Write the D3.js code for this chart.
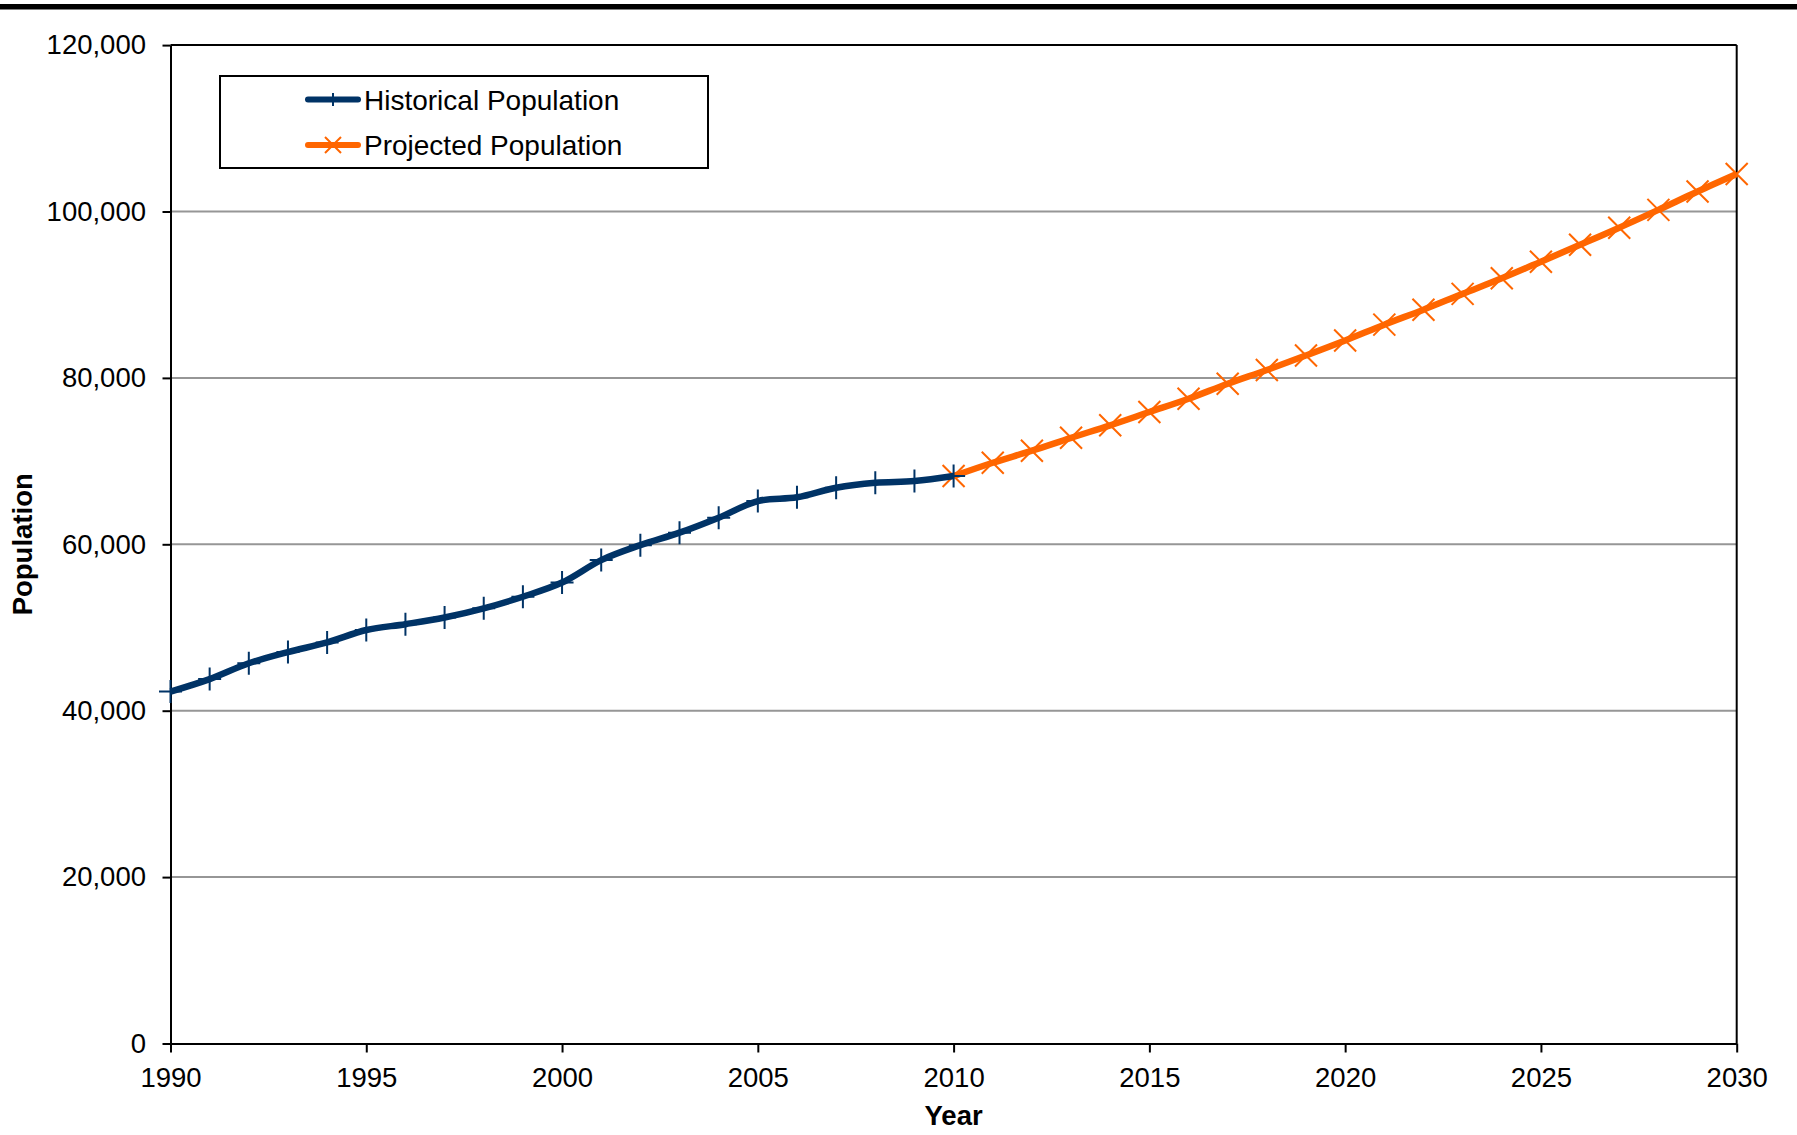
<!DOCTYPE html>
<html>
<head>
<meta charset="utf-8">
<script src="https://cdn.jsdelivr.net/npm/d3@7"></script>
<style>
  html, body { margin: 0; padding: 0; background: #fff; }
  svg { display: block; }
  text { font-family: "Liberation Sans", Arial, sans-serif; fill: #000; }
</style>
</head>
<body>
<svg id="chart" width="1797" height="1135"></svg>
<script>
// Historical population, 1990–2010
const histYears = [1990, 1991, 1992, 1993, 1994, 1995, 1996, 1997, 1998, 1999, 2000,
                   2001, 2002, 2003, 2004, 2005, 2006, 2007, 2008, 2009, 2010];
const histPop = [42300, 43800, 45700, 47050, 48200, 49700, 50400, 51200, 52300, 53700, 55400,
                 58100, 59900, 61400, 63200, 65200, 65650, 66800, 67400, 67600, 68200];

// Projected population, 2010–2030
const projYears = [2010, 2011, 2012, 2013, 2014, 2015, 2016, 2017, 2018, 2019, 2020,
                   2021, 2022, 2023, 2024, 2025, 2026, 2027, 2028, 2029, 2030];
const projPop = [68200, 69800, 71250, 72800, 74300, 75900, 77500, 79300, 80950, 82700, 84500,
                 86400, 88200, 90100, 91970, 93970, 96000, 98050, 100200, 102400, 104500];

const yTicks = [0, 20000, 40000, 60000, 80000, 100000, 120000];
const xTicks = [1990, 1995, 2000, 2005, 2010, 2015, 2020, 2025, 2030];
const seriesNames = ["Historical Population", "Projected Population"];

const NAVY = "#003366", ORANGE = "#FF6600";
const FS = 27.5;

const svg = d3.select("#chart");
const W = 1797, H = 1135;
const m = { left: 170.5, right: W - 1736.7, top: 45.1, bottom: H - 1043.5 };

const x = d3.scaleLinear().domain([1990, 2030]).range([m.left, W - m.right]);
const y = d3.scaleLinear().domain([0, 120000]).range([H - m.bottom, m.top]);

// heavy rule across the top of the page
svg.append("rect").attr("x", 0).attr("y", 4).attr("width", W).attr("height", 5.5).attr("fill", "#000");

// horizontal gridlines
svg.append("g").selectAll("line")
  .data(yTicks.filter(d => d > 0 && d < 120000))
  .join("line")
  .attr("x1", x(1990)).attr("x2", x(2030))
  .attr("y1", d => y(d)).attr("y2", d => y(d))
  .attr("stroke", "#969696").attr("stroke-width", 2);

// plot frame: top and right edges
svg.append("line").attr("x1", x(1990)).attr("x2", x(2030)).attr("y1", y(120000)).attr("y2", y(120000))
  .attr("stroke", "#000").attr("stroke-width", 2);
svg.append("line").attr("x1", x(2030)).attr("x2", x(2030)).attr("y1", y(120000)).attr("y2", y(0))
  .attr("stroke", "#000").attr("stroke-width", 2);

// axes
const fmt = d3.format(",");
const yAxis = svg.append("g").attr("transform", `translate(${x(1990)},0)`)
  .call(d3.axisLeft(y).tickValues(yTicks).tickFormat(fmt).tickSize(8).tickPadding(16.5).tickSizeOuter(0));
const xAxis = svg.append("g").attr("transform", `translate(0,${y(0)})`)
  .call(d3.axisBottom(x).tickValues(xTicks).tickFormat(d3.format("d")).tickSize(9).tickPadding(15).tickSizeOuter(0));
[yAxis, xAxis].forEach(g => {
  g.select(".domain").attr("stroke", "#000").attr("stroke-width", 2);
  g.selectAll(".tick line").attr("stroke", "#000").attr("stroke-width", 2);
  g.selectAll(".tick text").attr("font-size", FS).attr("font-family", "Liberation Sans, Arial, sans-serif").attr("fill", "#000");
});

// axis titles
svg.append("text").attr("x", (x(1990) + x(2030)) / 2).attr("y", 1125)
  .attr("text-anchor", "middle").attr("font-size", FS).attr("font-weight", "bold").text("Year");
svg.append("text").attr("transform", `translate(31.5,${(y(0) + y(120000)) / 2}) rotate(-90)`)
  .attr("text-anchor", "middle").attr("font-size", FS).attr("font-weight", "bold").text("Population");

// series lines
const line = d3.line().x(d => x(d[0])).y(d => y(d[1])).curve(d3.curveCatmullRom.alpha(0.5));
const projData = projYears.map((yr, i) => [yr, projPop[i]]);
const histData = histYears.map((yr, i) => [yr, histPop[i]]);

function plusPath(s) { return `M${-s},0H${s}M0,${-s}V${s}`; }
function crossPath(s) { return `M${-s},${-s}L${s},${s}M${-s},${s}L${s},${-s}`; }

svg.append("path").datum(projData).attr("d", line)
  .attr("fill", "none").attr("stroke", ORANGE).attr("stroke-width", 6.5).attr("stroke-linejoin", "round");
svg.append("g").selectAll("path").data(projData).join("path")
  .attr("transform", d => `translate(${x(d[0])},${y(d[1])})`)
  .attr("d", crossPath(11)).attr("stroke", ORANGE).attr("stroke-width", 2).attr("fill", "none");

svg.append("path").datum(histData).attr("d", line)
  .attr("fill", "none").attr("stroke", NAVY).attr("stroke-width", 6.5).attr("stroke-linejoin", "round");
svg.append("g").selectAll("path").data(histData).join("path")
  .attr("transform", d => `translate(${x(d[0])},${y(d[1])})`)
  .attr("d", plusPath(11.5)).attr("stroke", NAVY).attr("stroke-width", 2).attr("fill", "none");

// legend
const lg = svg.append("g");
lg.append("rect").attr("x", 220).attr("y", 76).attr("width", 488).attr("height", 92)
  .attr("fill", "#fff").attr("stroke", "#000").attr("stroke-width", 2);
const rows = [
  { name: seriesNames[0], color: NAVY, marker: plusPath(6.5), cy: 99.5 },
  { name: seriesNames[1], color: ORANGE, marker: crossPath(8), cy: 145 }
];
rows.forEach(r => {
  lg.append("line").attr("x1", 308).attr("x2", 358).attr("y1", r.cy).attr("y2", r.cy)
    .attr("stroke", r.color).attr("stroke-width", 6).attr("stroke-linecap", "round");
  lg.append("path").attr("transform", `translate(333,${r.cy})`).attr("d", r.marker)
    .attr("stroke", r.color).attr("stroke-width", 2).attr("fill", "none");
  lg.append("text").attr("x", 364).attr("y", r.cy).attr("dy", "0.36em")
    .attr("font-size", 28).text(r.name);
});
</script>
</body>
</html>
